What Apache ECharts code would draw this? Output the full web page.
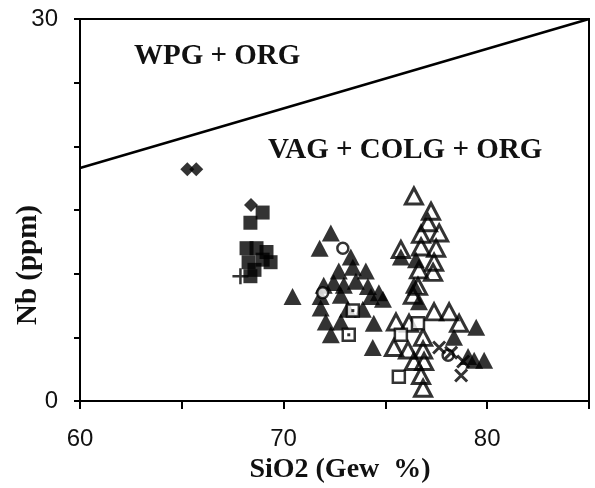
<!DOCTYPE html>
<html><head><meta charset="utf-8">
<script src="https://cdn.jsdelivr.net/npm/echarts@6/dist/echarts.min.js"></script>
<style>html,body{margin:0;padding:0;background:#fff}#c{width:595px;height:488px}</style>
</head><body><div id="c"></div>
<script>
// Data (SiO2 wt%, Nb ppm)
const boundaryLine = [[60, 18.3], [85, 30]];
const filledDiamonds = [[65.27, 18.2], [65.71, 18.2], [68.4, 15.4]];
const filledSquares = [[68.97, 14.8], [68.37, 14.0], [68.18, 12.0], [68.67, 12.0], [69.16, 11.7], [69.36, 10.9], [68.28, 10.9], [68.97, 11.1], [68.57, 10.3], [68.37, 9.8]];
const plusPoints = [[67.88, 9.8]];
const filledTriangles = [[72.32, 13.2], [71.77, 12.0], [73.30, 11.3], [72.71, 10.2], [73.40, 10.5], [74.04, 10.2], [71.97, 9.1], [72.46, 9.3], [72.96, 9.1], [73.55, 9.4], [74.14, 9.0], [74.68, 8.5], [70.44, 8.2], [71.82, 8.2], [72.81, 8.3], [74.29, 8.2], [74.88, 8.0], [71.82, 7.3], [73.15, 7.2], [73.89, 7.2], [72.07, 6.2], [72.81, 6.2], [74.43, 6.1], [72.32, 5.2], [74.38, 4.2], [75.76, 11.3], [76.5, 11.1], [76.4, 9.1], [76.65, 7.8], [79.46, 5.8], [78.37, 5.0], [79.36, 3.2], [79.85, 3.2], [79.06, 3.5]];
const openTriangles = [[76.40, 16.1], [77.24, 14.9], [77.09, 14.0], [76.75, 13.1], [77.64, 13.2], [77.49, 12.0], [75.76, 11.9], [76.75, 12.1], [77.39, 10.9], [76.65, 10.3], [77.34, 10.1], [76.6, 9.0], [76.35, 8.3], [77.39, 7.0], [78.13, 7.0], [75.52, 6.2], [76.16, 6.1], [76.85, 5.0], [78.62, 6.1], [75.42, 4.2], [76.11, 4.0], [76.85, 4.0], [76.4, 3.1], [76.9, 3.1], [76.75, 2.0], [76.85, 1.0]];
const openCircles = [[72.91, 12.0], [71.92, 8.5], [78.08, 3.6]];
const dottedSquares = [[73.4, 7.1], [73.2, 5.2]];
const openSquares = [[76.6, 6.1], [75.76, 5.2], [75.66, 1.9]];
const crosses = [[77.64, 4.2], [78.23, 3.8], [78.82, 3.1], [78.72, 2.0]];
const xTickLabels = [60, 70, 80];
const yTickLabels = [0, 30];

const chart = echarts.init(document.getElementById('c'), null, {renderer: 'canvas'});
const serif = '"Liberation Serif", "DejaVu Serif", serif';
const sans = '"Liberation Sans", Arial, sans-serif';
chart.setOption({
  animation: false,
  backgroundColor: '#fff',
  grid: {left: 80, top: 19, width: 509, height: 382, show: true, borderColor: '#000', borderWidth: 2, backgroundColor: 'transparent'},
  xAxis: {
    type: 'value', min: 60, max: 85, interval: 5,
    axisLine: {lineStyle: {color: '#000', width: 2}},
    axisTick: {length: 8, lineStyle: {color: '#000', width: 2}},
    splitLine: {show: false},
    axisLabel: {color: '#111', fontFamily: sans, fontSize: 24, margin: 26,
      formatter: v => xTickLabels.includes(v) ? String(v) : ''}
  },
  yAxis: {
    type: 'value', min: 0, max: 30, interval: 5,
    axisLine: {lineStyle: {color: '#000', width: 2}},
    axisTick: {length: 6, lineStyle: {color: '#000', width: 2}},
    splitLine: {show: false},
    axisLabel: {color: '#111', fontFamily: sans, fontSize: 24, margin: 22,
      formatter: v => yTickLabels.includes(v) ? String(v) : ''}
  },
  graphic: [
    {type: 'text', left: 134, top: 42, style: {text: 'WPG + ORG', font: 'bold 29px ' + serif, fill: '#111'}},
    {type: 'text', left: 268, top: 136, style: {text: 'VAG + COLG + ORG', font: 'bold 29px ' + serif, fill: '#111'}},
    {type: 'text', x: 29, y: 265, rotation: Math.PI / 2, style: {text: 'Nb (ppm)', font: 'bold 29px ' + serif, fill: '#111', align: 'center', verticalAlign: 'middle'}},
    {type: 'text', x: 340, y: 470, style: {text: 'SiO2 (Gew  %)', font: 'bold 28px ' + serif, fill: '#111', align: 'center', verticalAlign: 'middle'}}
  ],
  series: [
    {type: 'line', data: boundaryLine, symbol: 'none', lineStyle: {color: '#000', width: 2.5}, z: 1},
    {type: 'scatter', data: filledDiamonds, symbol: 'diamond', symbolSize: [14, 14], itemStyle: {color: '#000'}},
    {type: 'scatter', data: filledSquares, symbol: 'rect', symbolSize: 14, itemStyle: {color: '#000'}},
    {type: 'scatter', data: plusPoints, symbol: 'path://M5,0L5,10M0,5L10,5', symbolSize: 16, itemStyle: {color: 'rgba(0,0,0,0)', borderColor: '#000', borderWidth: 2.5}},
    {type: 'scatter', data: filledTriangles, symbol: 'triangle', symbolSize: [18, 17], itemStyle: {color: '#000'}},
    {type: 'scatter', data: openTriangles, symbol: 'triangle', symbolSize: [17, 16], itemStyle: {color: 'rgba(0,0,0,0)', borderColor: '#000', borderWidth: 3}},
    {type: 'scatter', data: openCircles, symbol: 'circle', symbolSize: 11, itemStyle: {color: '#fff', borderColor: '#000', borderWidth: 2.5}},
    {type: 'scatter', data: dottedSquares, symbol: 'rect', symbolSize: 12, itemStyle: {color: '#fff', borderColor: '#000', borderWidth: 2.5}},
    {type: 'scatter', data: dottedSquares, symbol: 'rect', symbolSize: 3, itemStyle: {color: '#000'}},
    {type: 'scatter', data: openSquares, symbol: 'rect', symbolSize: 12, itemStyle: {color: '#fff', borderColor: '#000', borderWidth: 2.5}},
    {type: 'scatter', data: crosses, symbol: 'path://M0,0L10,10M10,0L0,10', symbolSize: 12, itemStyle: {color: 'rgba(0,0,0,0)', borderColor: '#000', borderWidth: 3}}
  ]
});
</script></body></html>
